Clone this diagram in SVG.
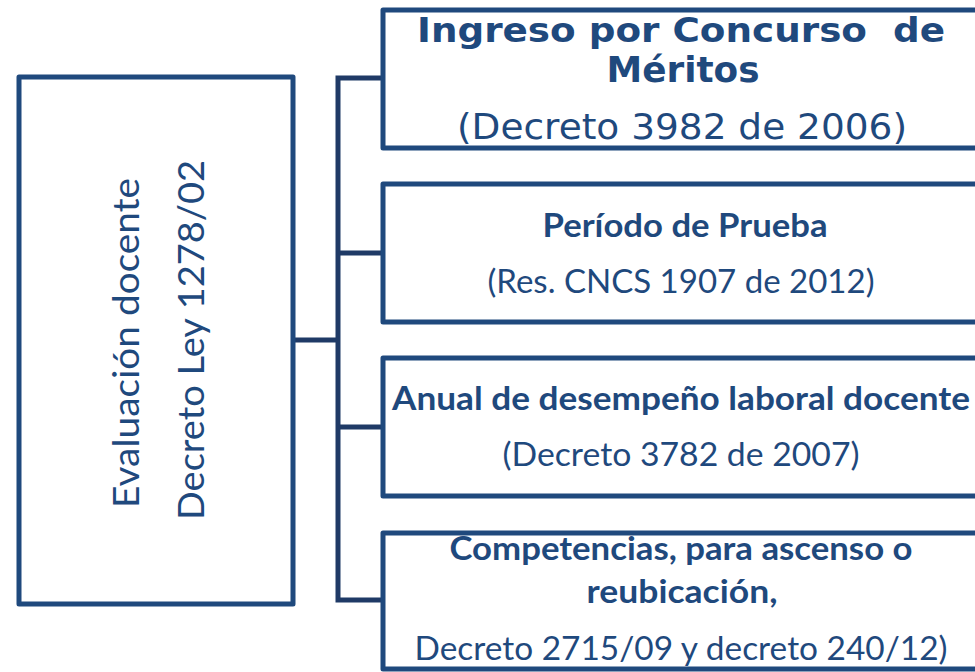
<svg xmlns="http://www.w3.org/2000/svg" width="975" height="672" viewBox="0 0 975 672">
<style>
.box{fill:#fff;stroke:#1F497D;stroke-width:5;stroke-linejoin:round}
.ln{fill:none;stroke:#1F3A66;stroke-width:5;stroke-linecap:square}
.t{fill:#1F497D;text-anchor:middle;font-family:Lato,"Open Sans",sans-serif}
.b{font-weight:bold}
.v{fill:#1F497D;text-anchor:middle;font-family:"DejaVu Sans",Verdana,sans-serif}
</style>
<rect width="975" height="672" fill="#fff"/>
<g id="connectors">
<path class="ln" d="M293 340H338M338 78V600M338 78H383M338 253H383M338 427H383M338 600H383"/>
</g>
<g id="root">
<rect class="box" x="19" y="77" width="274" height="527"/>
<text class="t" font-size="37" transform="translate(139,343) rotate(-90)" textLength="330" lengthAdjust="spacingAndGlyphs">Evaluación docente</text>
<text class="t" font-size="37" transform="translate(204,340) rotate(-90)" textLength="360" lengthAdjust="spacingAndGlyphs">Decreto Ley 1278/02</text>
</g>
<g id="n1">
<rect class="box" x="383" y="10" width="600" height="138"/>
<text class="v b" font-size="34" x="681" y="42" textLength="528" lengthAdjust="spacingAndGlyphs" xml:space="preserve">Ingreso por Concurso  de</text>
<text class="v b" font-size="36" x="683" y="82" textLength="153" lengthAdjust="spacingAndGlyphs">Méritos</text>
<text class="v" font-size="36" x="682" y="139" textLength="450" lengthAdjust="spacingAndGlyphs">(Decreto 3982 de 2006)</text>
</g>
<g id="n2">
<rect class="box" x="383" y="184" width="600" height="138"/>
<text class="t b" font-size="33" x="685" y="237" textLength="285" lengthAdjust="spacingAndGlyphs">Período de Prueba</text>
<text class="t" font-size="33" x="681" y="293" textLength="387" lengthAdjust="spacingAndGlyphs">(Res. CNCS 1907 de 2012)</text>
</g>
<g id="n3">
<rect class="box" x="383" y="358" width="600" height="138"/>
<text class="t b" font-size="33" x="681" y="410" textLength="578" lengthAdjust="spacingAndGlyphs">Anual de desempeño laboral docente</text>
<text class="t" font-size="33" x="681" y="466" textLength="357" lengthAdjust="spacingAndGlyphs">(Decreto 3782 de 2007)</text>
</g>
<g id="n4">
<rect class="box" x="383" y="533" width="600" height="136"/>
<text class="t b" font-size="33" x="681" y="560" textLength="463" lengthAdjust="spacingAndGlyphs">Competencias, para ascenso o</text>
<text class="t b" font-size="33" x="682" y="603" textLength="191" lengthAdjust="spacingAndGlyphs">reubicación,</text>
<text class="t" font-size="33" x="681" y="660" textLength="533" lengthAdjust="spacingAndGlyphs">Decreto 2715/09 y decreto 240/12)</text>
</g>
</svg>
